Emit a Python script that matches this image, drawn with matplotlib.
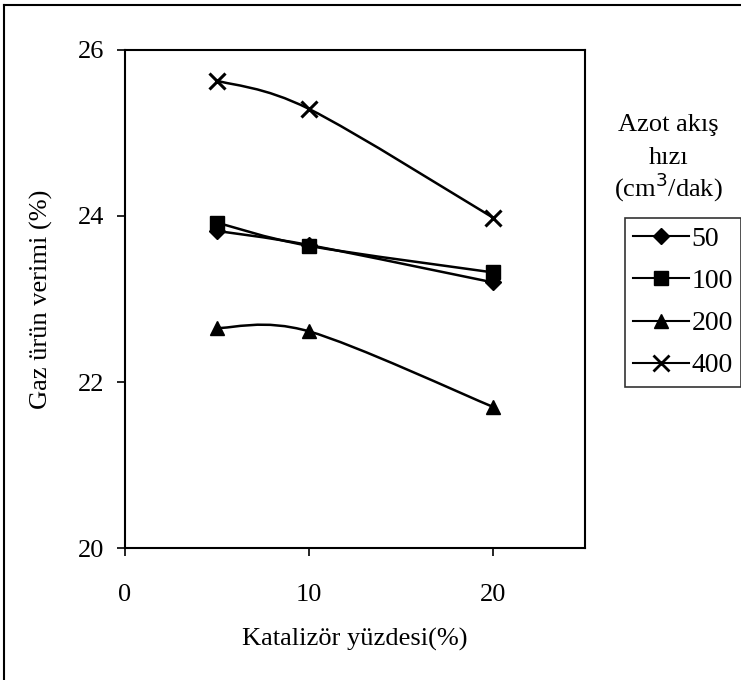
import matplotlib.pyplot as plt
from matplotlib.path import Path
from matplotlib.patches import PathPatch
from matplotlib.lines import Line2D
import numpy as np

plt.rcParams['font.family'] = ['Liberation Serif', 'DejaVu Serif']

katalizor = [5, 10, 20]
flow_labels = ["50", "100", "200", "400"]
verim_50 = [23.82, 23.65, 23.20]
verim_100 = [23.92, 23.64, 23.32]
verim_200 = [22.65, 22.61, 21.70]
verim_400 = [25.63, 25.29, 23.98]

series = [verim_50, verim_100, verim_200, verim_400]
markers = ["D", "s", "^", "x"]
msizes = [8, 10, 10, 11]


def smooth_path(ax, xs, ys):
    # Excel-style smoothed line: cubic bezier through the points, built in display space
    pts = ax.transData.transform(np.column_stack([xs, ys]))
    n = len(pts)
    verts = [pts[0]]
    codes = [Path.MOVETO]
    for i in range(n - 1):
        p0 = pts[i - 1] if i > 0 else pts[i]
        p1, p2 = pts[i], pts[i + 1]
        p3 = pts[i + 2] if i + 2 < n else pts[i + 1]
        c1 = p1 + (p2 - p0) / 6.0
        c2 = p2 - (p3 - p1) / 6.0
        verts += [c1, c2, p2]
        codes += [Path.CURVE4] * 3
    return Path(ax.transData.inverted().transform(np.array(verts)), codes)


fig = plt.figure(figsize=(7.41, 6.80), dpi=100)
ax = fig.add_axes([0.1687, 0.1941, 0.6208, 0.7324])
ax.set_xlim(0, 25)
ax.set_ylim(20, 26)
ax.set_xticks([0, 10, 20])
ax.set_yticks([20, 22, 24, 26])
ax.tick_params(axis='both', direction='out', length=6, width=1.2, labelsize=19)
ax.tick_params(axis='x', pad=20)
ax.tick_params(axis='y', pad=9)
for s in ax.spines.values():
    s.set_linewidth(1.5)

ax.set_xlabel("Katalizör yüzdesi(%)", fontsize=19, labelpad=16)
ax.set_ylabel("Gaz ürün verimi (%)", fontsize=19, labelpad=18)

fig.canvas.draw()
handles = []
for ys, m, ms, lab in zip(series, markers, msizes, flow_labels):
    ax.add_patch(PathPatch(smooth_path(ax, katalizor, ys), fill=False,
                           edgecolor='black', lw=1.8, zorder=2))
    ax.plot(katalizor, ys, linestyle='none', marker=m, markersize=ms,
            color='black', markeredgewidth=2.2 if m == "x" else 1, zorder=3)
    handles.append(Line2D([], [], color='black', lw=1.5, marker=m,
                          markersize=ms, markeredgewidth=2 if m == "x" else 1,
                          label=lab))

leg = fig.legend(handles=handles, loc='upper left',
                 bbox_to_anchor=(0.843, 0.679), fontsize=20, frameon=True,
                 fancybox=False, edgecolor='black', handlelength=2.0,
                 handletextpad=0.1, labelspacing=0.6, borderpad=0.3,
                 borderaxespad=0)
leg.get_frame().set_linewidth(1.2)

fig.text(0.902, 0.816, "Azot akış", ha='center', va='center', fontsize=19)
fig.text(0.902, 0.768, "hızı", ha='center', va='center', fontsize=19)
fig.text(0.902, 0.725, "(cm$^3$/dak)", ha='center', va='center', fontsize=19)

# outer frame of the chart area
fig.add_artist(Line2D([0.006, 0.006], [0.0, 0.993], transform=fig.transFigure,
                      color='black', lw=1.5))
fig.add_artist(Line2D([0.006, 1.0], [0.993, 0.993], transform=fig.transFigure,
                      color='black', lw=1.5))

fig.savefig("out.png", dpi=100)
